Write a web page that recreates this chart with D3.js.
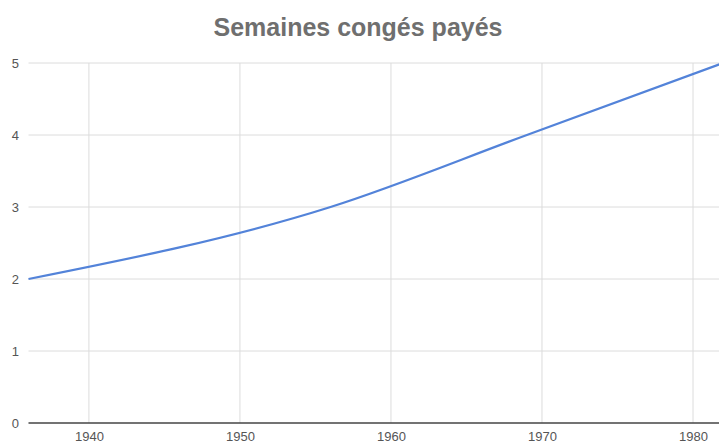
<!DOCTYPE html>
<html>
<head>
<meta charset="utf-8">
<script src="https://cdn.jsdelivr.net/npm/d3@7"></script>
<style>
  body { margin: 0; background: #fff; }
  svg { display: block; font-family: Arial, "Liberation Sans", sans-serif; }
</style>
</head>
<body>
<svg width="719" height="446"></svg>
<script>
// Paid leave weeks by year
const years = [1936, 1956, 1969, 1982];
const weeks = [2, 3, 4, 5];
const xTicks = [1940, 1950, 1960, 1970, 1980];
const yTicks = [0, 1, 2, 3, 4, 5];

const svg = d3.select("svg");

// scales
const x = d3.scaleLinear().domain([1936, 1980]).range([28.5, 693]);
const y = d3.scaleLinear().domain([0, 5]).range([423, 63]);

const data = years.map((yr, i) => ({ x: yr, y: weeks[i] }));

// title
svg.append("text")
    .attr("x", 358)
    .attr("y", 36)
    .attr("text-anchor", "middle")
    .attr("font-size", 25)
    .attr("font-weight", "bold")
    .attr("fill", "#6f6f6f")
    .text("Semaines congés payés");

// gridlines
svg.append("g")
    .selectAll("line.h")
    .data(yTicks.filter(d => d > 0))
    .enter()
    .append("line")
    .attr("x1", 28.5).attr("x2", 719)
    .attr("y1", d => y(d)).attr("y2", d => y(d))
    .attr("stroke", "#dcdcdc")
    .attr("stroke-width", 1);

svg.append("g")
    .selectAll("line.v")
    .data(xTicks)
    .enter()
    .append("line")
    .attr("x1", d => x(d)).attr("x2", d => x(d))
    .attr("y1", y(5)).attr("y2", y(0))
    .attr("stroke", "#dcdcdc")
    .attr("stroke-width", 1);

// y labels
const yAxis = svg.append("g")
    .attr("transform", "translate(19,0)")
    .call(d3.axisLeft(y).tickValues(yTicks).tickFormat(d3.format("d")).tickSize(0).tickPadding(0));
yAxis.select(".domain").remove();
yAxis.selectAll("text")
    .attr("font-size", 13)
    .attr("fill", "#555")
    .attr("font-family", "Arial, 'Liberation Sans', sans-serif");

// x axis
const xAxis = svg.append("g")
    .attr("transform", "translate(0," + y(0) + ")")
    .call(d3.axisBottom(x).tickValues(xTicks).tickFormat(d3.format("d")).tickSize(0).tickPadding(9));
xAxis.select(".domain").remove();
xAxis.selectAll("text")
    .attr("font-size", 13)
    .attr("fill", "#555")
    .attr("font-family", "Arial, 'Liberation Sans', sans-serif");

svg.append("line")
    .attr("x1", 28.5).attr("x2", 719)
    .attr("y1", y(0)).attr("y2", y(0))
    .attr("stroke", "#444")
    .attr("stroke-width", 1.5);

// line
const line = d3.line()
    .x(d => x(d.x))
    .y(d => y(d.y))
    .curve(d3.curveMonotoneX);

svg.append("path")
    .datum(data)
    .attr("fill", "none")
    .attr("stroke", "#5383d9")
    .attr("stroke-width", 2.2)
    .attr("d", line);
</script>
</body>
</html>
